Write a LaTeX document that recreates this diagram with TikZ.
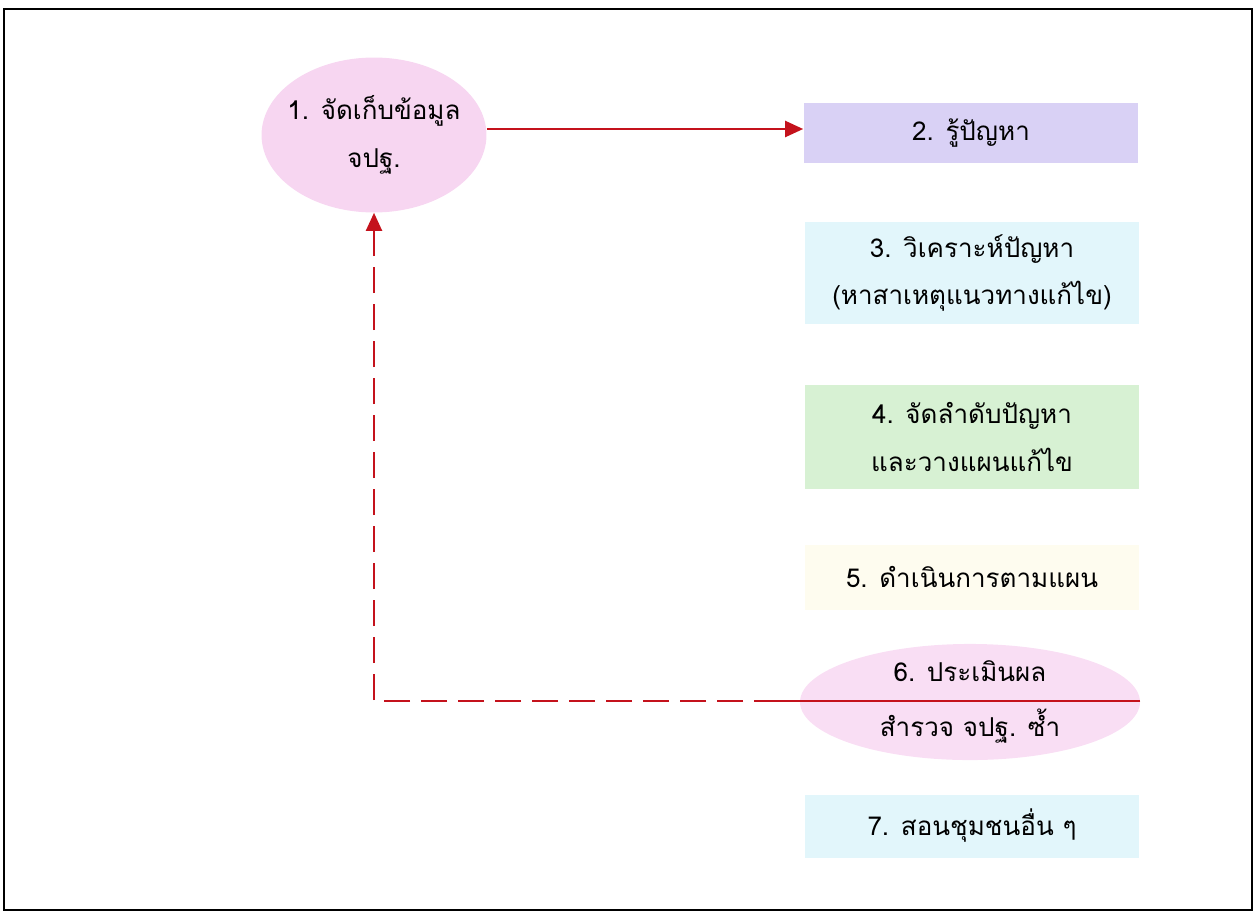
\documentclass[tikz,border=0pt]{standalone}
\usepackage{fontspec}
\usepackage{tikz}
\usetikzlibrary{arrows.meta,shapes.geometric}
\newfontfamily\thaifont[Script=Thai]{Loma}
\definecolor{linkred}{HTML}{C4121C}
\definecolor{lavender}{HTML}{D9D1F5}
\definecolor{palecyan}{HTML}{E2F6FB}
\definecolor{palegreen}{HTML}{D7F1D3}
\definecolor{paleyellow}{HTML}{FEFCEF}
\definecolor{palepink}{HTML}{F7D6F1}

\begin{document}
\begin{tikzpicture}[x=0.02cm, y=-0.02cm,
      stage/.style={font=\thaifont\fontsize{14.8}{27}\selectfont, align=center,
                    minimum width=6.7cm, inner sep=0pt},
      blob/.style={ellipse, font=\thaifont\fontsize{14.8}{27}\selectfont,
                   align=center, inner sep=0pt},
      link/.style={-{Triangle[length=3.6mm, width=3.2mm]}, line width=1.2pt,
                   draw=linkred},
      back/.style={line width=1.2pt, draw=linkred},
    ]
    \useasboundingbox (0,0) rectangle (1257,913);
    \draw[line width=1.4pt] (4,9) rectangle (1252,910);

    % Stages
    \node[blob, fill=palepink, minimum width=4.5cm, minimum height=3.1cm,
          inner xsep=-5pt]
      (collect) at (374,135) {1. จัดเก็บข้อมูล\\จปฐ.};
    \node[stage, fill=lavender, minimum height=1.2cm]
      (know) at (971,133) {2. รู้ปัญหา};
    \node[stage, fill=palecyan, minimum height=2.06cm]
      (analyse) at (972,273) {3. วิเคราะห์ปัญหา\\(หาสาเหตุแนวทางแก้ไข)};
    \node[stage, fill=palegreen, minimum height=2.1cm]
      (plan) at (972,437) {4. จัดลำดับปัญหา\\และวางแผนแก้ไข};
    \node[stage, fill=paleyellow, minimum height=1.3cm]
      (act) at (972,577) {5. ดำเนินการตามแผน};
    \node[blob, fill=palepink!80, minimum width=6.8cm, minimum height=2.1cm,
          font=\thaifont\fontsize{14.8}{31}\selectfont]
      (assess) at (970,702) {6. ประเมินผล\\สำรวจ จปฐ. ซ้ำ};
    \node[stage, fill=palecyan, minimum height=1.26cm]
      (teach) at (972,826) {7. สอนชุมชนอื่น ๆ};

    % Connectors
    \draw[link] (collect.east |- 0,129) -- (know.west |- 0,129);
    \coordinate (turn) at (780,701);
    \draw[back] (assess.east |- 0,701) -- (turn);
    \draw[back, dash pattern=on 0.52cm off 0.22cm, -{Triangle[length=3.6mm, width=3.2mm]}]
      (turn) -| (collect.south);
  \end{tikzpicture}
\end{document}
